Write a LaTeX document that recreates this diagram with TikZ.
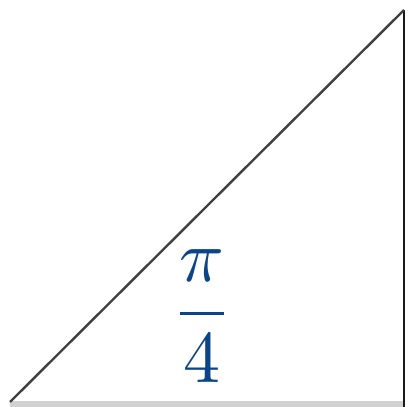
\documentclass[tikz,border=0pt]{standalone}
\usepackage{amsmath}
\definecolor{labelblue}{RGB}{12,68,136}
\begin{document}
\begin{tikzpicture}[x=1pt,y=1pt,
  hyp/.style={draw=black!75,line width=2.4pt},
  vert/.style={draw=black!90,line width=2.4pt},
  base/.style={draw=black!18,line width=6pt}]
\useasboundingbox (0,0) rectangle (408,407);
\coordinate (A) at (10,5);
\coordinate (B) at (404,3);
\coordinate (C) at (404,397);
\coordinate (A0) at (10,3);
\draw[base] (A0) -- (B);
\draw[vert] (404,0) -- (C);
\draw[hyp] (A) -- (C);
\node[text=labelblue,scale=7.4] (lab) at (202,91) {$\displaystyle\frac{\pi}{4}$};
\end{tikzpicture}
\end{document}
